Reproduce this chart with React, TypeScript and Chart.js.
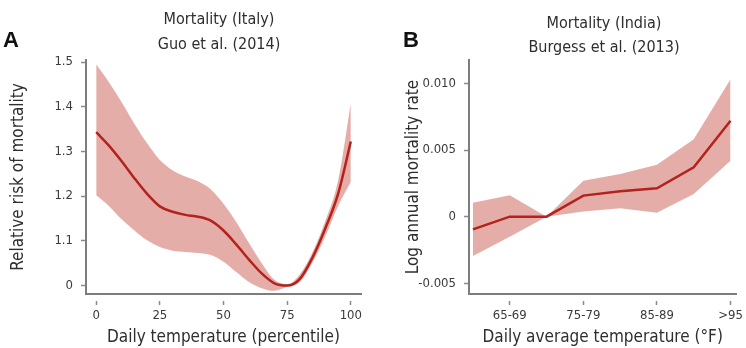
import React, { useEffect, useRef } from 'react';
import { Chart, registerables } from 'chart.js';

Chart.register(...registerables);

// ---------- Panel A: Italy (Guo et al. 2014) ----------
const italyPercentile = [0, 5, 10, 15, 20, 25, 30, 35, 40, 45, 50, 55, 60, 65, 70, 75, 80, 85, 90, 95, 100];
const italyRisk = [1.343, 1.313, 1.278, 1.240, 1.205, 1.177, 1.165, 1.158, 1.154, 1.145, 1.123, 1.092, 1.058, 1.027, 1.005, 1.0, 1.015, 1.063, 1.128, 1.205, 1.322];
const italyUpper = [1.495, 1.455, 1.41, 1.362, 1.318, 1.281, 1.258, 1.244, 1.233, 1.215, 1.183, 1.142, 1.095, 1.05, 1.013, 1.003, 1.025, 1.075, 1.145, 1.235, 1.408];
const italyLower = [1.202, 1.178, 1.148, 1.123, 1.101, 1.086, 1.078, 1.075, 1.073, 1.068, 1.053, 1.03, 1.008, 0.994, 0.988, 0.997, 1.008, 1.052, 1.11, 1.178, 1.232];
const italyXTicks = [0, 25, 50, 75, 100];
const italyYTicks = [1.0, 1.1, 1.2, 1.3, 1.4, 1.5];
const italyYTickLabels = ['0', '1.1', '1.2', '1.3', '1.4', '1.5'];

// ---------- Panel B: India (Burgess et al. 2013) ----------
const indiaCategories = ['<65', '65-69', '70-74', '75-79', '80-84', '85-89', '90-94', '>95'];
const indiaRate = [-0.00095, 0.0, 0.0, 0.00158, 0.0019, 0.00213, 0.0037, 0.0072];
const indiaUpper = [0.00105, 0.0016, 0.0, 0.0027, 0.0032, 0.0039, 0.0058, 0.0103];
const indiaLower = [-0.00295, -0.0015, 0.0, 0.00038, 0.00063, 0.0003, 0.0017, 0.0042];
const indiaLabeledCategories = ['65-69', '75-79', '85-89', '>95'];
const indiaYTicks = [-0.005, 0, 0.005, 0.01];
const indiaYTickLabels = ['-0.005', '0', '0.005', '0.010'];

const FONT = "'Liberation Sans Narrow', 'DejaVu Sans Condensed', 'Arial Narrow', sans-serif";
const BAND = 'rgba(222, 150, 144, 0.78)';
const LINE = '#b3221c';
const AXIS = '#7d7d7d';
const TEXT = '#2e2e2e';
const TICKTEXT = '#3a3a3a';

function pts(xs: number[], ys: number[]) {
  return ys.map((y, i) => ({ x: xs[i], y }));
}

function baseScaleX(min: number, max: number, ticks: number[], labelFn: (v: number) => string, title: string) {
  return {
    type: 'linear' as const,
    position: 'bottom' as const,
    min,
    max,
    afterFit: (s: any) => { s.height = 54; },
    afterBuildTicks: (s: any) => { s.ticks = ticks.map((v) => ({ value: v })); },
    ticks: {
      autoSkip: false,
      maxRotation: 0,
      padding: 3,
      color: TICKTEXT,
      font: { family: FONT, size: 13 },
      callback: (v: any) => labelFn(Number(v)),
    },
    grid: {
      drawOnChartArea: false,
      drawTicks: true,
      tickLength: 11,
      tickColor: '#8a8a8a',
      tickWidth: 1.5,
      tickBorderDash: [0, 6, 5, 40],
    },
    border: { color: AXIS, width: 2 },
    title: {
      display: true,
      text: title,
      color: TEXT,
      font: { family: FONT, size: 17 },
      padding: { top: 0, bottom: 0 },
    },
  };
}

function baseScaleY(min: number, max: number, ticks: number[], labels: string[], width: number, title: string, titlePad: number) {
  return {
    type: 'linear' as const,
    position: 'left' as const,
    min,
    max,
    afterFit: (s: any) => { s.width = width; },
    afterBuildTicks: (s: any) => { s.ticks = ticks.map((v) => ({ value: v })); },
    ticks: {
      autoSkip: false,
      padding: 3,
      color: TICKTEXT,
      font: { family: FONT, size: 13 },
      callback: (v: any) => {
        const idx = ticks.findIndex((t) => Math.abs(t - Number(v)) < 1e-9);
        return idx >= 0 ? labels[idx] : '';
      },
    },
    grid: {
      drawOnChartArea: false,
      drawTicks: true,
      tickLength: 10,
      tickColor: '#8a8a8a',
      tickWidth: 1.5,
      tickBorderDash: [0, 5, 5, 40],
    },
    border: { color: AXIS, width: 2 },
    title: {
      display: true,
      text: title,
      color: TEXT,
      font: { family: FONT, size: 17 },
      padding: { top: titlePad, bottom: 0 },
    },
  };
}

// Center line first so it is drawn on top of the confidence band.
function bandDatasets(upper: any[], lower: any[], center: any[], smooth: boolean) {
  const common = {
    pointRadius: 0,
    pointHoverRadius: 0,
    cubicInterpolationMode: smooth ? ('monotone' as const) : ('default' as const),
    tension: 0,
  };
  return [
    { ...common, data: center, fill: false, borderWidth: 2.5, borderColor: LINE },
    { ...common, data: upper, fill: '+1', backgroundColor: BAND, borderWidth: 0, borderColor: 'rgba(0,0,0,0)' },
    { ...common, data: lower, fill: false, borderWidth: 0, borderColor: 'rgba(0,0,0,0)' },
  ];
}

function ChartCanvas({ config, left }: { config: any; left: number }) {
  const ref = useRef<HTMLCanvasElement | null>(null);
  useEffect(() => {
    if (!ref.current) return;
    const chart = new Chart(ref.current, config);
    return () => chart.destroy();
  }, []);
  return (
    <canvas
      ref={ref}
      width={373}
      height={348}
      style={{ position: 'absolute', left, top: 0, width: 373, height: 348 }}
    />
  );
}

const commonOptions = {
  responsive: false,
  animation: false as const,
  devicePixelRatio: 1,
  plugins: { legend: { display: false }, tooltip: { enabled: false }, title: { display: false } },
};

const italyConfig = {
  type: 'line',
  data: {
    datasets: bandDatasets(
      pts(italyPercentile, italyUpper),
      pts(italyPercentile, italyLower),
      pts(italyPercentile, italyRisk),
      true
    ),
  },
  options: {
    ...commonOptions,
    layout: { padding: { top: 60, right: 12, left: 0, bottom: 0 } },
    scales: {
      x: baseScaleX(-4, 104, italyXTicks, (v) => String(v), 'Daily temperature (percentile)'),
      y: baseScaleY(0.981, 1.5045, italyYTicks, italyYTickLabels, 86, 'Relative risk of mortality', 8),
    },
  },
};

const indiaIdx = indiaCategories.map((_, i) => i);
const indiaConfig = {
  type: 'line',
  data: {
    datasets: bandDatasets(
      pts(indiaIdx, indiaUpper),
      pts(indiaIdx, indiaLower),
      pts(indiaIdx, indiaRate),
      false
    ),
  },
  options: {
    ...commonOptions,
    layout: { padding: { top: 60, right: 6, left: 0, bottom: 0 } },
    scales: {
      x: baseScaleX(
        -0.107,
        7.16,
        indiaLabeledCategories.map((c) => indiaCategories.indexOf(c)),
        (v) => indiaCategories[Math.round(v)] ?? '',
        'Daily average temperature (\u00B0F)'
      ),
      y: baseScaleY(-0.0058, 0.01175, indiaYTicks, indiaYTickLabels, 96, 'Log annual mortality rate', 30),
    },
  },
};

const titleStyle = (cx: number, cy: number): React.CSSProperties => ({
  position: 'absolute',
  left: cx,
  top: cy - 10,
  transform: 'translateX(-50%)',
  whiteSpace: 'nowrap',
  fontFamily: FONT,
  fontSize: 16,
  lineHeight: '20px',
  color: TEXT,
});

const letterStyle = (x: number): React.CSSProperties => ({
  position: 'absolute',
  left: x,
  top: 29,
  fontFamily: "'Liberation Sans', Arial, sans-serif",
  fontWeight: 700,
  fontSize: 22,
  lineHeight: '22px',
  color: '#111',
});

export default function App() {
  return (
    <div style={{ position: 'absolute', left: 0, top: 0, width: 746, height: 348, background: '#fff', overflow: 'hidden' }}>
      <ChartCanvas config={italyConfig} left={0} />
      <ChartCanvas config={indiaConfig} left={373} />
      <div style={letterStyle(3)}>A</div>
      <div style={letterStyle(403)}>B</div>
      <div style={titleStyle(219, 19)}>Mortality (Italy)</div>
      <div style={titleStyle(219, 44)}>Guo et al. (2014)</div>
      <div style={titleStyle(604, 23)}>Mortality (India)</div>
      <div style={titleStyle(604, 47)}>Burgess et al. (2013)</div>
    </div>
  );
}
